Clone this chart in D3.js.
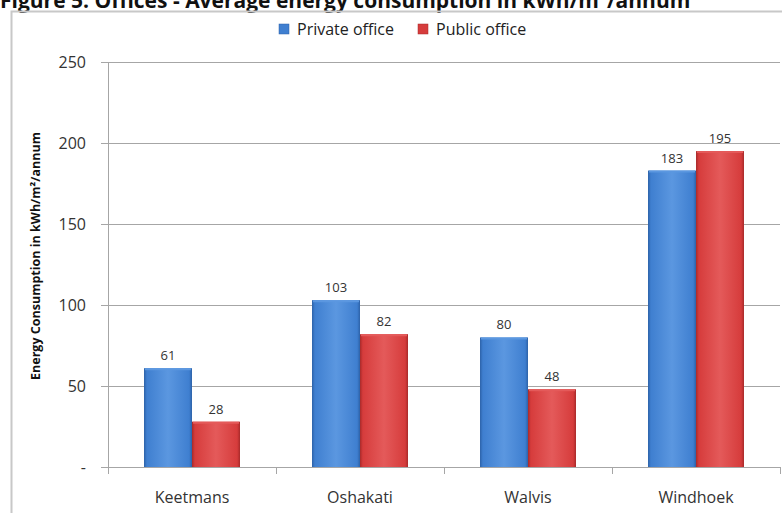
<!DOCTYPE html>
<html>
<head>
<meta charset="utf-8">
<script src="https://cdn.jsdelivr.net/npm/d3@7"></script>
<style>
  html, body { margin: 0; padding: 0; background: #fff; }
  svg { display: block; }
</style>
</head>
<body>
<svg id="chart" width="782" height="513"></svg>
<script>
// Average energy consumption of offices by town (kWh/m²/annum)
const categories = ["Keetmans", "Oshakati", "Walvis", "Windhoek"];
const seriesNames = ["Private office", "Public office"];
const privateOffice = [61, 103, 80, 183];
const publicOffice = [28, 82, 48, 195];
const yTicks = [0, 50, 100, 150, 200, 250];
const yTickLabels = ["-", "50", "100", "150", "200", "250"];

const seriesValues = [privateOffice, publicOffice];
const colors = ["#3f7fd0", "#d63c3c"];
const darks = ["#2d62a8", "#a82a2a"];
const lights = ["#5b97e0", "#e45a5a"];

const svg = d3.select("#chart");
const font = "'Open Sans', 'Noto Sans', sans-serif";

// Gradients give the bars their bevelled look
const defs = svg.append("defs");
seriesNames.forEach((s, i) => {
  const g = defs.append("linearGradient").attr("id", "grad" + i)
    .attr("x1", 0).attr("x2", 1).attr("y1", 0).attr("y2", 0);
  g.append("stop").attr("offset", "0%").attr("stop-color", darks[i]);
  g.append("stop").attr("offset", "6%").attr("stop-color", colors[i]);
  g.append("stop").attr("offset", "50%").attr("stop-color", lights[i]);
  g.append("stop").attr("offset", "94%").attr("stop-color", colors[i]);
  g.append("stop").attr("offset", "100%").attr("stop-color", darks[i]);
});

// Title, sitting at the very top edge of the page
svg.append("text")
  .attr("x", 0).attr("y", 8)
  .attr("font-family", "'Open Sans', sans-serif")
  .attr("font-weight", "bold")
  .attr("font-size", 21)
  .attr("fill", "#111")
  .text("Figure 5: Offices - Average energy consumption in kWh/m²/annum");

// Chart frame
svg.append("rect")
  .attr("x", 11.5).attr("y", 11.5)
  .attr("width", 782).attr("height", 520)
  .attr("fill", "none")
  .attr("stroke", "#c8c8c8").attr("stroke-width", 2);

const plotLeft = 108, plotRight = 780, plotTop = 62, plotBottom = 467;

const y = d3.scaleLinear().domain([0, 250]).range([plotBottom, plotTop]);
const x0 = d3.scaleBand().domain(categories).range([plotLeft, plotRight]).paddingInner(0).paddingOuter(0);
const x1 = d3.scaleBand().domain(seriesNames).range([36, x0.bandwidth() - 36]);

// Gridlines and y axis
const yAxis = d3.axisLeft(y)
  .tickValues(yTicks)
  .tickSize(-(plotRight - plotLeft))
  .tickFormat((d, i) => yTickLabels[i]);
const gy = svg.append("g").attr("transform", `translate(${plotLeft},0)`).call(yAxis);
gy.select(".domain").remove();
gy.selectAll(".tick line")
  .attr("stroke", "#a6a6a6").attr("x1", -7);
gy.selectAll(".tick text")
  .attr("x", -22)
  .attr("font-family", font).attr("font-size", 16).attr("fill", "#333");

svg.append("line")
  .attr("x1", plotLeft + 0.5).attr("x2", plotLeft + 0.5)
  .attr("y1", plotTop).attr("y2", plotBottom + 7)
  .attr("stroke", "#a6a6a6");

// x axis
const xAxis = d3.axisBottom(x0).tickSize(0).tickPadding(25);
const gx = svg.append("g").attr("transform", `translate(0,${plotBottom})`).call(xAxis);
gx.select(".domain").attr("stroke", "#a6a6a6").attr("d", `M${plotLeft},0.5H${plotRight}`);
gx.selectAll(".tick text")
  .attr("font-family", font).attr("font-size", 16).attr("fill", "#333");

// Category separator ticks
svg.append("g").selectAll("line")
  .data(categories)
  .join("line")
  .attr("x1", d => Math.round(x0(d) + x0.bandwidth()) + 0.5)
  .attr("x2", d => Math.round(x0(d) + x0.bandwidth()) + 0.5)
  .attr("y1", plotBottom).attr("y2", plotBottom + 7)
  .attr("stroke", "#a6a6a6");

// Bars
const barData = (c, ci) => seriesNames.map((s, si) => ({ s, si, v: seriesValues[si][ci] }));
const groups = svg.append("g").selectAll("g")
  .data(categories)
  .join("g")
  .attr("transform", d => `translate(${x0(d)},0)`);

groups.selectAll("rect")
  .data(barData)
  .join("rect")
  .attr("x", d => x1(d.s))
  .attr("y", d => y(d.v))
  .attr("width", x1.bandwidth())
  .attr("height", d => plotBottom - y(d.v))
  .attr("fill", d => `url(#grad${d.si})`);

// Top highlight of each bar
groups.selectAll("line.cap")
  .data(barData)
  .join("line")
  .attr("class", "cap")
  .attr("x1", d => x1(d.s) + 1)
  .attr("x2", d => x1(d.s) + x1.bandwidth() - 1)
  .attr("y1", d => y(d.v) + 1)
  .attr("y2", d => y(d.v) + 1)
  .attr("stroke", d => lights[d.si]).attr("stroke-width", 2);

// Value labels
groups.selectAll("text.val")
  .data(barData)
  .join("text")
  .attr("class", "val")
  .attr("x", d => x1(d.s) + x1.bandwidth() / 2)
  .attr("y", d => y(d.v) - 8)
  .attr("text-anchor", "middle")
  .attr("font-family", font).attr("font-size", 13).attr("fill", "#333")
  .text(d => d.v);

// Y axis title
svg.append("text")
  .attr("transform", "translate(40,256) rotate(-90)")
  .attr("text-anchor", "middle")
  .attr("font-family", font).attr("font-weight", "bold")
  .attr("font-size", 12.5).attr("fill", "#111")
  .text("Energy Consumption in kWh/m²/annum");

// Legend
const legend = svg.append("g");
const legendX = [279, 418];
seriesNames.forEach((s, i) => {
  legend.append("rect")
    .attr("x", legendX[i]).attr("y", 24)
    .attr("width", 10).attr("height", 10)
    .attr("fill", colors[i]).attr("stroke", darks[i]).attr("stroke-width", 0.5);
  legend.append("text")
    .attr("x", legendX[i] + 18).attr("y", 35)
    .attr("font-family", font).attr("font-size", 16).attr("fill", "#222")
    .text(s);
});
</script>
</body>
</html>
